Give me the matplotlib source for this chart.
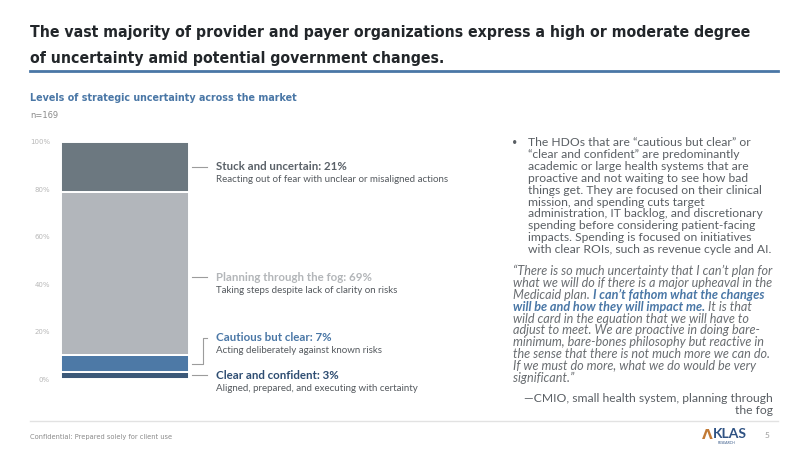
import matplotlib
matplotlib.use('Agg')
import matplotlib.pyplot as plt
from matplotlib import font_manager as fm
from matplotlib.lines import Line2D
from matplotlib.text import Annotation
from matplotlib.transforms import blended_transform_factory, ScaledTranslation

# ---------------- data ----------------
categories = ['Clear and confident', 'Cautious but clear',
              'Planning through the fog', 'Stuck and uncertain']
values = [3, 7, 69, 21]
descriptions = ['Aligned, prepared, and executing with certainty',
                'Acting deliberately against known risks',
                'Taking steps despite lack of clarity on risks',
                'Reacting out of fear with unclear or misaligned actions']
yticks = [0, 20, 40, 60, 80, 100]
ytick_labels = ['0%', '20%', '40%', '60%', '80%', '100%']

# ---------------- style ----------------
seg_colors = ['#3b5878', '#4d79a6', '#b2b6bb', '#6c7880']
label_colors = ['#2e4d72', '#4a77a6', '#b3b6b9', '#5b6269']
label_y = [1.5, 17.3, 43.0, 89.5]   # label anchor heights (data units)

W, H = 800, 450
fig = plt.figure(figsize=(8, 4.5), dpi=100)
fig.patch.set_facecolor('white')
def fx(x): return x / W
def fy(y): return 1 - y / H

flist = fm.fontManager.ttflist
def has(name, bold=False, italic=False):
    for f in flist:
        if f.name != name:
            continue
        w = f.weight if isinstance(f.weight, int) else (700 if 'bold' in str(f.weight) else 400)
        if bold and w < 600:
            continue
        if italic and f.style not in ('italic', 'oblique'):
            continue
        return True
    return False

BODY = 'DejaVu Sans'
for cand in ['Lato', 'Open Sans', 'Inter', 'Roboto', 'Noto Sans']:
    if has(cand) and has(cand, bold=True) and has(cand, italic=True) and has(cand, bold=True, italic=True):
        BODY = cand
        break
names = {f.name for f in flist}
if 'Liberation Sans Narrow' in names:
    COND = dict(family=['Liberation Sans Narrow', 'DejaVu Sans'])
else:
    COND = dict(family=['DejaVu Sans'], stretch='condensed')

renderer = fig.canvas.get_renderer()
def fit(t, target_px):
    w = t.get_window_extent(renderer).width
    t.set_fontsize(t.get_fontsize() * target_px / w)
    return t.get_fontsize()

# ---------------- title ----------------
t1 = fig.text(fx(30), fy(33), 'The vast majority of provider and payer organizations express a high or moderate degree',
              fontsize=13, fontweight='bold', color='#22262a', va='center', ha='left', **COND)
fs = fit(t1, 722)
fig.text(fx(30), fy(58), 'of uncertainty amid potential government changes.',
         fontsize=fs, fontweight='bold', color='#22262a', va='center', ha='left', **COND)
fig.add_artist(Line2D([fx(30), fx(778)], [fy(71), fy(71)], color='#4a77a6', lw=2))

st = fig.text(fx(30), fy(98), 'Levels of strategic uncertainty across the market',
              fontsize=9, fontweight='bold', color='#4a77a6', va='center', **COND)
fit(st, 268)
nt = fig.text(fx(30), fy(116), 'n=169', fontsize=7, color='#8a8a8a', va='center', **COND)
fit(nt, 28)

# ---------------- bar ----------------
ax = fig.add_axes([fx(61), fy(379), 128 / W, 237 / H])
bottom = 0
mids = []
for v, c in zip(values, seg_colors):
    ax.bar(0, v, bottom=bottom, width=1, color=c, edgecolor='white', linewidth=1.4)
    mids.append(bottom + v / 2)
    bottom += v
ax.set_xlim(-0.5, 0.5)
ax.set_ylim(0, 100)
ax.set_xticks([])
ax.set_yticks(yticks)
ax.set_yticklabels(ytick_labels)
ax.tick_params(axis='y', length=0, pad=8, labelsize=5, labelcolor='#b8b8b8')
for s in ax.spines.values():
    s.set_visible(False)

trans = blended_transform_factory(ax.transAxes, ax.transData)
x_start = 1 + 3 / 128
x_elbow = 1 + 14 / 128
x_end = 1 + 18 / 128
x_lab = 1 + 27 / 128
sub_tr = trans + ScaledTranslation(0, -13 / 100, fig.dpi_scale_trans)
head_texts, sub_texts = [], []
for i, (cat, val, desc) in enumerate(zip(categories, values, descriptions)):
    m, ly = mids[i], label_y[i]
    if abs(m - ly) > 2:
        ax.plot([x_start, x_elbow, x_elbow, x_end], [m, m, ly, ly], transform=trans,
                color='#9c9c9c', lw=0.8, clip_on=False)
    else:
        ax.plot([x_start, x_end], [ly, ly], transform=trans, color='#9c9c9c', lw=0.8, clip_on=False)
    head_texts.append(ax.text(x_lab, ly, f'{cat}: {val}%', transform=trans, va='center', ha='left',
                              fontsize=8, fontweight='bold', color=label_colors[i], family=BODY))
    sub_texts.append(ax.text(x_lab, ly, desc, transform=sub_tr,
                             va='center', ha='left', fontsize=7, color='#555a5f', family=BODY))
hfs = fit(head_texts[3], 130)
sfs = fit(sub_texts[3], 234)
for t in head_texts:
    t.set_fontsize(hfs)
for t in sub_texts:
    t.set_fontsize(sfs)

# ---------------- right text ----------------
bullet_lines = [
    'The HDOs that are \u201ccautious but clear\u201d or',
    '\u201cclear and confident\u201d are predominantly',
    'academic or large health systems that are',
    'proactive and not waiting to see how bad',
    'things get. They are focused on their clinical',
    'mission, and spending cuts target',
    'administration, IT backlog, and discretionary',
    'spending before considering patient-facing',
    'impacts. Spending is focused on initiatives',
    'with clear ROIs, such as revenue cycle and AI.',
]
body_color = '#5a5f64'
y0, dy = 143, 11.8
btexts = [fig.text(fx(528), fy(y0 + k * dy), line, fontsize=8.5, color=body_color,
                   va='center', family=BODY) for k, line in enumerate(bullet_lines)]
bfs = fit(btexts[9], 243)
for t in btexts:
    t.set_fontsize(bfs)
fig.text(fx(515), fy(y0), '\u2022', fontsize=bfs * 0.75, color=body_color, va='center', ha='center',
         family=BODY)

blue = '#4a77a6'
qgray = '#6a6e72'
quote_lines = [
    [('\u201cThere is so much uncertainty that I can\u2019t plan for', 0)],
    [('what we will do if there is a major upheaval in the', 0)],
    [('Medicaid plan. ', 0), ('I can\u2019t fathom what the changes', 1)],
    [('will be and how they will impact me.', 1), (' It is that', 0)],
    [('wild card in the equation that we will have to', 0)],
    [('adjust to meet. We are proactive in doing bare-', 0)],
    [('minimum, bare-bones philosophy but reactive in', 0)],
    [('the sense that there is not much more we can do.', 0)],
    [('If we must do more, what we do would be very', 0)],
    [('significant.\u201d', 0)],
]
q0, qdy = 271, 11.9
refq = fig.text(fx(513), -1, quote_lines[7][0][0], fontsize=8.5, style='italic', family=BODY)
qfs = fit(refq, 256)
refq.remove()
for k, segs in enumerate(quote_lines):
    prev = None
    for text, hl in segs:
        kw = dict(fontsize=qfs, style='italic', family=BODY,
                  color=blue if hl else qgray, fontweight='bold' if hl else 'normal')
        if prev is None:
            prev = fig.text(fx(513), fy(q0 + k * qdy), text, va='center', ha='left', **kw)
        else:
            prev = fig.add_artist(Annotation(text, xy=(1, 0.5), xycoords=prev,
                                             va='center', ha='left', **kw))

fig.text(fx(773), fy(398), '\u2014CMIO, small health system, planning through', fontsize=bfs,
         color=body_color, va='center', ha='right', family=BODY)
fig.text(fx(773), fy(411), 'the fog', fontsize=bfs, color=body_color, va='center', ha='right', family=BODY)

# ---------------- footer ----------------
fig.add_artist(Line2D([fx(30), fx(778)], [fy(421), fy(421)], color='#e2e2e2', lw=1))
ft = fig.text(fx(30), fy(437), 'Confidential: Prepared solely for client use', fontsize=5.5,
              color='#8a8a8a', va='center', **COND)
fit(ft, 140)
fig.text(fx(707), fy(435), '\u039b', fontsize=10, fontweight='bold', color='#c27a35', va='center', ha='center',
         family='DejaVu Sans')
fig.text(fx(713), fy(434), 'KLAS', fontsize=10, fontweight='bold', color='#2f5283', va='center', ha='left',
         family=BODY)
fig.text(fx(727), fy(443), 'RESEARCH', fontsize=2.5, color='#2f5283', va='center', ha='center', family=BODY)
fig.text(fx(767), fy(436), '5', fontsize=6, color='#9a9a9a', va='center', ha='center', family=BODY)

fig.savefig('out.png', dpi=100, facecolor='white')
